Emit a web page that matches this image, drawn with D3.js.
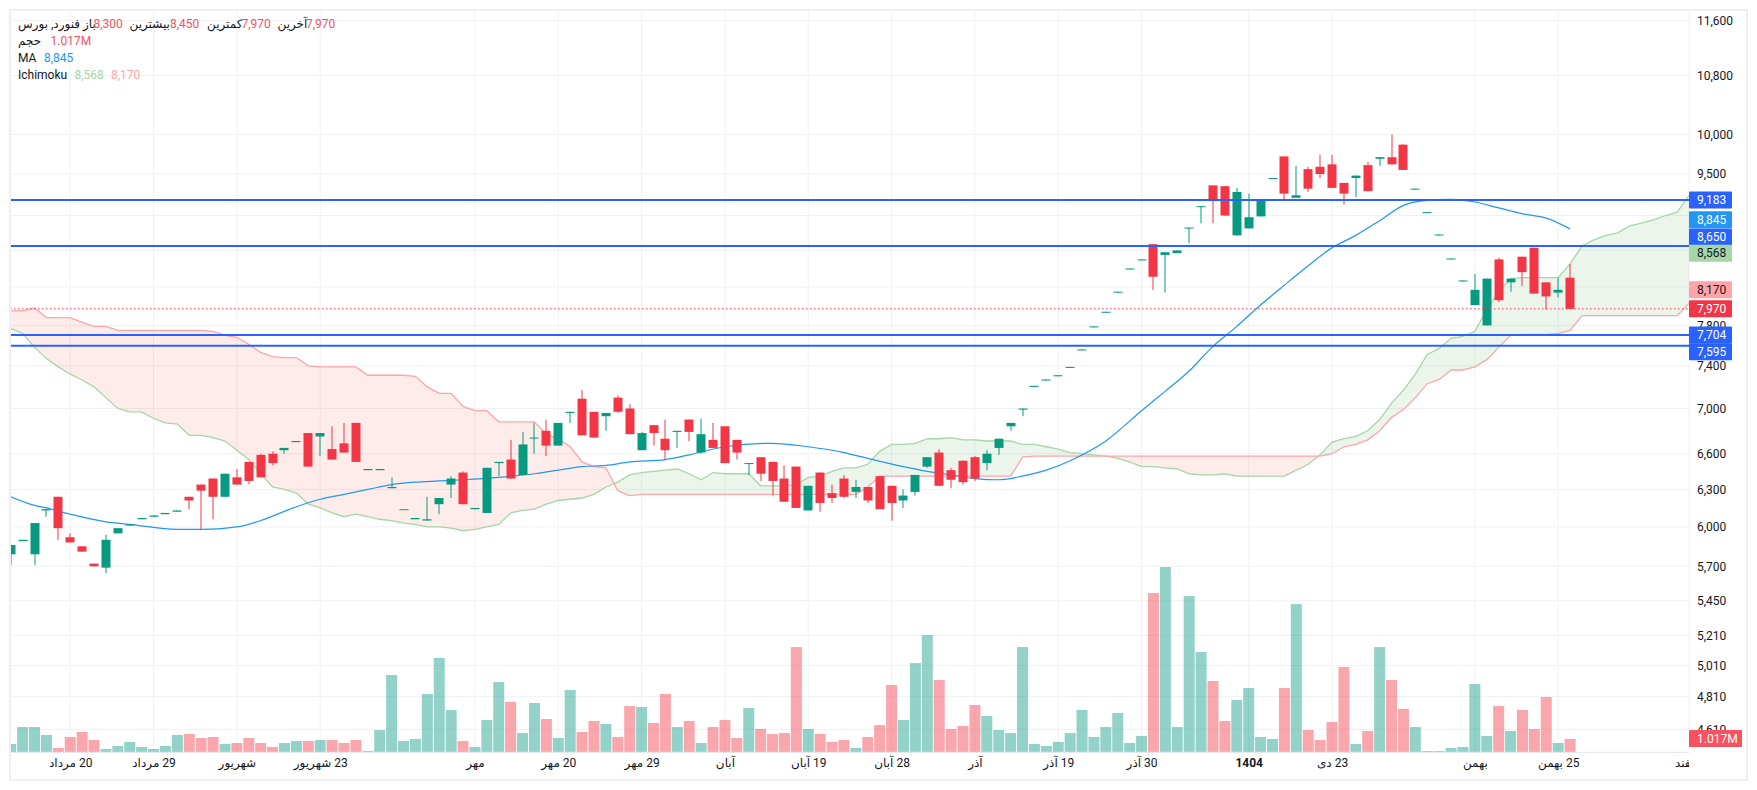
<!DOCTYPE html>
<html>
<head>
<meta charset="utf-8">
<script src="https://cdn.jsdelivr.net/npm/d3@7"></script>
<style>
  html, body { margin: 0; padding: 0; background: #fff; }
  svg { display: block; }
  text { font-family: Roboto, "DejaVu Sans", sans-serif; font-size: 12px; fill: #131722; }
</style>
</head>
<body>
<svg id="chart" width="1757" height="790"></svg>
<script>
// candle values, one entry per trading day
const opens = [5790,5890,5790,6130,6240,5920,5850,5720,5690,5950,6010,6060,6080,6100,6120,6240,6340,6390,6240,6400,6530,6590,6600,6630,6700,6780,6750,6640,6690,6870,6460,6460,6310,6140,6060,6050,6180,6340,6440,6140,6110,6520,6550,6420,6740,6800,6670,6960,7090,6970,6930,7100,7000,6630,6850,6730,6790,6900,6610,6720,6840,6720,6520,6570,6530,6390,6490,6130,6440,6270,6390,6280,6320,6410,6330,6210,6280,6490,6610,6460,6540,6570,6520,6650,6840,6990,7200,7260,7300,7380,7550,7780,7930,8140,8390,8490,8670,8550,8570,8850,9100,9360,9350,8770,8850,8990,9440,9720,9210,9560,9590,9620,9390,9450,9610,9690,9710,9870,9310,9030,8770,8500,8260,8010,7800,8500,8250,8530,8630,8250,8140,8300];
const highs = [5860,5900,6030,6140,6240,5950,5850,5720,5940,5990,6020,6070,6090,6110,6130,6240,6340,6390,6430,6470,6530,6600,6620,6650,6710,6780,6780,6840,6870,6870,6470,6470,6400,6140,6070,6240,6230,6410,6450,6150,6480,6530,6720,6790,6870,6900,6870,6970,7170,6970,6960,7120,7040,6790,6850,6900,6800,6900,6910,6870,6840,6720,6520,6570,6530,6500,6490,6330,6440,6340,6420,6380,6320,6410,6330,6300,6420,6570,6640,6480,6540,6580,6630,6730,6870,7000,7210,7270,7310,7390,7560,7790,7940,8150,8400,8500,8670,8580,8600,8860,9110,9360,9350,9330,9260,9180,9450,9720,9600,9590,9740,9740,9390,9480,9650,9710,10000,9870,9320,9040,8780,8510,8270,8340,8290,8520,8290,8530,8630,8250,8300,8450];
const lows = [5710,5890,5710,6080,5900,5880,5810,5700,5650,5950,6010,6060,6080,6100,6120,6140,5980,6060,6240,6340,6340,6400,6500,6600,6700,6490,6580,6550,6610,6530,6460,6460,6310,6140,6060,6050,6100,6230,6180,6140,6110,6410,6390,6420,6600,6580,6670,6870,6760,6740,6800,6960,6770,6630,6670,6550,6650,6710,6600,6650,6520,6550,6420,6370,6250,6200,6150,6130,6120,6190,6230,6230,6190,6140,6050,6150,6250,6480,6330,6310,6340,6370,6460,6590,6800,6930,7200,7260,7300,7380,7550,7780,7930,8140,8390,8490,8170,8140,8570,8680,8910,8910,9000,8770,8850,8990,9440,9170,9210,9280,9450,9330,9130,9220,9290,9600,9620,9550,9310,9030,8770,8500,8260,8010,7800,8040,8150,8210,8130,7960,8090,7970];
const closes = [5860,5900,6030,6140,5990,5880,5810,5700,5900,5990,6020,6070,6090,6110,6130,6210,6290,6240,6430,6340,6370,6400,6520,6650,6710,6490,6780,6550,6610,6530,6470,6470,6320,6140,6070,6060,6230,6390,6180,6150,6480,6530,6390,6680,6740,6670,6870,6970,6760,6740,6960,6970,6770,6780,6780,6630,6800,6790,6770,6650,6520,6610,6520,6430,6370,6200,6150,6330,6190,6230,6240,6320,6210,6140,6190,6250,6420,6570,6330,6380,6360,6390,6600,6730,6870,7000,7210,7270,7310,7390,7560,7790,7940,8150,8400,8500,8310,8580,8600,8860,9110,9170,9000,9280,8980,9180,9450,9260,9240,9320,9500,9330,9260,9480,9290,9710,9620,9550,9320,9040,8780,8510,8270,8170,8290,8060,8290,8360,8130,8100,8170,7970];
// volume in millions, 1 = up day, 0 = down day
const volumes = [0.64,1.93,1.93,1.32,0.33,1.17,1.55,0.94,0.25,0.48,0.79,0.41,0.25,0.48,1.32,1.40,1.09,1.17,0.64,0.71,1.09,0.71,0.41,0.71,0.86,0.86,0.94,0.94,0.71,0.94,0.10,1.70,5.90,0.86,1.02,4.45,7.20,3.23,0.86,0.41,2.47,5.36,3.84,1.47,3.76,2.54,1.09,4.75,1.55,2.39,2.16,1.17,3.53,3.46,2.24,4.45,1.93,2.39,0.71,1.93,2.47,1.09,3.38,1.78,1.40,1.47,8.03,1.78,1.40,0.79,0.94,0.33,1.17,2.08,5.14,2.47,6.81,8.95,5.52,1.78,2.01,3.61,2.77,1.70,1.47,8.03,0.64,0.48,0.79,1.47,3.23,1.17,1.93,3.00,0.71,1.25,12.15,14.14,1.93,11.92,7.65,5.44,2.39,3.99,4.91,1.17,1.02,4.91,11.31,1.70,0.94,2.31,6.51,0.64,1.63,8.03,5.52,3.31,1.93,0.10,0.10,0.33,0.41,5.21,1.25,3.53,1.63,3.23,1.78,4.22,0.71,1.017];
const volumeUp = [1,1,1,1,0,0,0,0,1,1,1,1,1,1,1,0,0,0,1,0,0,0,0,1,1,0,1,0,0,0,1,1,1,1,1,1,1,1,0,1,1,1,0,1,1,0,1,1,0,0,1,0,0,1,0,0,1,0,1,0,0,0,1,0,0,0,0,1,0,0,0,1,0,0,0,1,1,1,0,0,0,0,1,1,1,1,1,1,1,1,1,1,1,1,1,1,0,1,1,1,1,0,0,1,1,1,1,0,1,0,0,0,0,1,0,1,0,0,1,1,1,1,1,1,1,0,1,0,0,0,1,0];

// Ichimoku spans run past the last candle
const spanA = [7770,7720,7580,7470,7390,7320,7265,7200,7100,7000,6970,6970,6910,6870,6860,6760,6760,6740,6710,6630,6550,6430,6320,6300,6270,6180,6150,6110,6080,6100,6080,6060,6050,6030,6020,6000,6000,5990,5970,5980,6000,6020,6110,6130,6140,6180,6210,6220,6230,6260,6320,6360,6420,6440,6450,6460,6470,6430,6380,6440,6430,6430,6430,6330,6330,6330,6340,6400,6410,6450,6480,6480,6510,6620,6680,6680,6690,6730,6730,6740,6720,6720,6710,6710,6710,6680,6680,6660,6640,6610,6600,6590,6580,6560,6530,6490,6490,6480,6470,6430,6420,6420,6430,6410,6410,6410,6410,6410,6460,6510,6590,6700,6730,6750,6800,6900,7050,7170,7320,7510,7570,7670,7690,7740,7960,8150,8290,8300,8300,8300,8300,8450,8650,8720,8770,8800,8880,8910,8950,9000,9040,9240,9430];
const spanB = [7950,7950,7980,7880,7880,7880,7830,7790,7790,7750,7750,7750,7750,7750,7750,7750,7750,7740,7700,7680,7610,7530,7490,7480,7480,7400,7390,7390,7390,7390,7310,7310,7310,7310,7300,7200,7140,7140,7020,6980,6980,6880,6880,6880,6880,6770,6730,6660,6530,6490,6480,6290,6250,6260,6260,6260,6260,6260,6260,6260,6260,6260,6260,6260,6260,6260,6260,6260,6260,6260,6260,6260,6320,6410,6410,6410,6410,6410,6410,6410,6410,6410,6410,6410,6410,6570,6580,6580,6580,6580,6580,6580,6580,6580,6580,6580,6580,6580,6580,6580,6580,6580,6580,6580,6580,6580,6580,6580,6580,6580,6580,6600,6660,6680,6720,6800,6920,6990,7100,7230,7270,7360,7360,7390,7460,7580,7700,7710,7710,7710,7720,7750,7900,7900,7900,7900,7900,7900,7900,7900,7900,8030,8170];

// moving average, read at these bars
const maBars = [0,2,3,5,8,10,14,16,19,21,24,26,28,30,32,34,36,38,41,44,46,48,50,52,55,57,60,64,67,70,72,75,77,79,81,83,85,87,89,92,95,97,99,101,103,105,107,109,111,113,115,117,119,121,123,125,127,129,131];
const maValues = [6240,6170,6150,6100,6040,6020,5980,5980,6000,6050,6160,6220,6260,6300,6340,6360,6370,6380,6400,6430,6460,6490,6500,6530,6550,6590,6660,6690,6660,6610,6560,6490,6450,6420,6390,6380,6410,6460,6540,6710,6980,7160,7350,7590,7790,8010,8220,8430,8630,8770,8940,9120,9180,9190,9160,9090,9020,8970,8845];

const priceTicks = [11600,10800,10000,9500,9000,8600,8200,7800,7400,7000,6600,6300,6000,5700,5450,5210,5010,4810,4610];
// these three labels sit fully behind price tags in the reference
const hiddenPriceLabels = [9000,8600,8200];
const levelLines = [9183,8650,7704,7595];
const lastPrice = 7970;
const timeBars = [5,12,19,26,39,46,53,60,67,74,81,88,95,104,111,123,130,141];
const timeLabels = ["20 مرداد","29 مرداد","شهریور","23 شهریور","مهر","20 مهر","29 مهر","آبان","19 آبان","28 آبان","آذر","19 آذر","30 آذر","1404","23 دی","بهمن","25 بهمن","اسفند"];

const priceTagValues = [9183,8845,8650,8568,8170,7970,7704,7595];

const UP = "#089981", DOWN = "#F23645", LEVEL = "#2962FF", MA = "#2196F3";
const SPAN_A = "#A5D6A7", SPAN_B = "#FFA4A8", GRID = "#F0F1F4";
const LEGEND_RED = "#F7525F";

const plotLeft = 10, plotRight = 1689, plotTop = 11, axisY = 752.3;

const svg = d3.select("#chart");
const x = d3.scaleLinear().domain([0, 131]).range([10.7, 1570.1]);
const y = d3.scaleLog().domain([4610, 11600]).range([729.3, 20.6]);
const vol = d3.scaleLinear().domain([0, 14.14]).range([axisY, 567]);

const defs = svg.append("defs");
defs.append("clipPath").attr("id", "plot")
  .append("rect").attr("x", plotLeft + 1).attr("y", plotTop).attr("width", plotRight - plotLeft - 1).attr("height", axisY - plotTop);
defs.append("clipPath").attr("id", "timeClip")
  .append("rect").attr("x", plotLeft).attr("y", axisY).attr("width", plotRight - plotLeft).attr("height", 30);

// grid
svg.append("g").selectAll("line").data(priceTicks).join("line")
  .attr("x1", plotLeft).attr("x2", plotRight)
  .attr("y1", d => y(d)).attr("y2", d => y(d))
  .attr("stroke", GRID).attr("stroke-width", 1);
svg.append("g").selectAll("line").data(timeBars).join("line")
  .attr("x1", d => x(d)).attr("x2", d => x(d))
  .attr("y1", plotTop).attr("y2", axisY)
  .attr("stroke", GRID).attr("stroke-width", 1);

// ichimoku cloud: the same band, cut along span A into green and red parts
const band = d3.area().x((d, i) => x(i)).y0((d, i) => y(spanB[i])).y1(d => y(d));
const belowA = d3.area().x((d, i) => x(i)).y0(axisY).y1(d => y(d));
const aboveA = d3.area().x((d, i) => x(i)).y0(plotTop).y1(d => y(d));
defs.append("clipPath").attr("id", "belowA").append("path").attr("d", belowA(spanA));
defs.append("clipPath").attr("id", "aboveA").append("path").attr("d", aboveA(spanA));

const plot = svg.append("g").attr("clip-path", "url(#plot)");
plot.append("g").attr("clip-path", "url(#belowA)").append("path")
  .attr("d", band(spanA)).attr("fill", "#43A047").attr("fill-opacity", 0.1);
plot.append("g").attr("clip-path", "url(#aboveA)").append("path")
  .attr("d", band(spanA)).attr("fill", "#F44336").attr("fill-opacity", 0.1);

const spanLine = d3.line().x((d, i) => x(i)).y(d => y(d));
plot.append("path").attr("d", spanLine(spanA)).attr("fill", "none").attr("stroke", SPAN_A).attr("stroke-width", 1.3);
plot.append("path").attr("d", spanLine(spanB)).attr("fill", "none").attr("stroke", SPAN_B).attr("stroke-width", 1.3);

// moving average
const maLine = d3.line().x((d, i) => x(maBars[i])).y(d => y(d)).curve(d3.curveMonotoneX);
plot.append("path").attr("d", maLine(maValues)).attr("fill", "none").attr("stroke", MA).attr("stroke-width", 1.2);

// volume
plot.append("g").selectAll("rect").data(volumes).join("rect")
  .attr("x", (d, i) => x(i) - 5.5)
  .attr("width", 11)
  .attr("y", d => vol(d))
  .attr("height", d => axisY - vol(d))
  .attr("fill", (d, i) => volumeUp[i] ? UP : DOWN)
  .attr("fill-opacity", 0.44);

// candles
const candles = plot.append("g").selectAll("g").data(opens).join("g")
  .attr("fill", (d, i) => closes[i] >= d ? UP : DOWN);
candles.append("rect")
  .attr("x", (d, i) => Math.round(x(i)) - 0.5)
  .attr("width", 1)
  .attr("y", (d, i) => y(highs[i]))
  .attr("height", (d, i) => y(lows[i]) - y(highs[i]));
candles.append("rect")
  .attr("x", (d, i) => Math.round(x(i)) - 4.5)
  .attr("width", 9)
  .attr("y", (d, i) => y(Math.max(d, closes[i])))
  .attr("height", (d, i) => Math.max(1, Math.abs(y(d) - y(closes[i]))));

// horizontal levels and last price
plot.append("line")
  .attr("x1", plotLeft).attr("x2", plotRight)
  .attr("y1", y(lastPrice)).attr("y2", y(lastPrice))
  .attr("stroke", DOWN).attr("stroke-width", 1).attr("stroke-dasharray", "1.5 2.5");
plot.append("g").selectAll("line").data(levelLines).join("line")
  .attr("x1", plotLeft).attr("x2", plotRight)
  .attr("y1", d => y(d)).attr("y2", d => y(d))
  .attr("stroke", LEVEL).attr("stroke-width", 2);

// axes
const priceAxis = d3.axisRight(y).tickValues(priceTicks)
  .tickFormat(d => hiddenPriceLabels.includes(d) ? "" : d3.format(",")(d))
  .tickSize(0).tickPadding(8);
const priceG = svg.append("g").attr("transform", `translate(${plotRight},0)`).call(priceAxis);
priceG.select(".domain").remove();
priceG.selectAll("text").style("font-size", "12px").style("font-family", "Roboto").attr("fill", "#131722");

const timeAxis = d3.axisBottom(x).tickValues(timeBars).tickFormat((d, i) => timeLabels[i]).tickSize(0).tickPadding(6);
const timeG = svg.append("g").attr("clip-path", "url(#timeClip)").append("g")
  .attr("transform", `translate(0,${axisY})`).call(timeAxis);
timeG.select(".domain").remove();
timeG.selectAll("text")
  .style("font-size", "12px")
  .style("font-weight", (d, i) => timeLabels[i] === "1404" ? 700 : 400)
  .style("direction", "rtl")
  .attr("fill", "#131722");

svg.append("line").attr("x1", plotLeft).attr("x2", plotRight).attr("y1", axisY).attr("y2", axisY)
  .attr("stroke", "#E0E3EB").attr("stroke-width", 1);

// price tags; some are pushed aside so they do not overlap
const tagColor = { 9183: LEVEL, 8845: MA, 8650: LEVEL, 8568: SPAN_A, 8170: SPAN_B, 7970: DOWN, 7704: LEVEL, 7595: LEVEL };
const tagInk = { 8568: "#131722", 8170: "#131722" };
const tagShift = { 8845: -9.2, 8650: -9, 7595: 6 };
const tags = svg.append("g").selectAll("g").data(priceTagValues).join("g")
  .attr("transform", d => `translate(${plotRight},${y(d) + (tagShift[d] || 0)})`);
tags.append("rect").attr("x", 0).attr("y", -8.5).attr("width", 43).attr("height", 17).attr("rx", 1)
  .attr("fill", d => tagColor[d]);
tags.append("text").attr("x", 8).attr("dy", "0.35em").text(d => d3.format(",")(d))
  .style("fill", d => tagInk[d] || "#fff");

const volTag = svg.append("g").attr("transform", `translate(${plotRight},${vol(1.017) - 0.5})`);
volTag.append("rect").attr("x", 0).attr("y", -8.5).attr("width", 53).attr("height", 17).attr("rx", 1).attr("fill", LEGEND_RED);
volTag.append("text").attr("x", 8).attr("dy", "0.35em").text("1.017M").style("fill", "#fff");

// legend
const legendItems = [
  ["فنورد, بورس", 18, 24, "#131722"],
  ["باز", 83, 24, "#131722"],
  ["8,300", 93.5, 24, LEGEND_RED],
  ["بیشترین", 129.5, 24, "#131722"],
  ["8,450", 170, 24, LEGEND_RED],
  ["کمترین", 207, 24, "#131722"],
  ["7,970", 241.5, 24, LEGEND_RED],
  ["آخرین", 277.5, 24, "#131722"],
  ["7,970", 306, 24, LEGEND_RED],
  ["حجم", 18, 41, "#131722"],
  ["1.017M", 50.5, 41, LEGEND_RED],
  ["MA", 18, 58, "#131722"],
  ["8,845", 44, 58, MA],
  ["Ichimoku", 18, 75, "#131722"],
  ["8,568", 74.5, 75, SPAN_A],
  ["8,170", 111, 75, SPAN_B]
];
svg.append("g").selectAll("text").data(legendItems).join("text")
  .attr("x", d => d[1]).attr("y", d => d[2]).attr("dy", "0.35em")
  .text(d => d[0]).style("fill", d => d[3]);

// outer frame
svg.append("rect").attr("x", 10).attr("y", 10).attr("width", 1737).attr("height", 770)
  .attr("fill", "none").attr("stroke", "#EEEFF4").attr("stroke-width", 2);
</script>
</body>
</html>
